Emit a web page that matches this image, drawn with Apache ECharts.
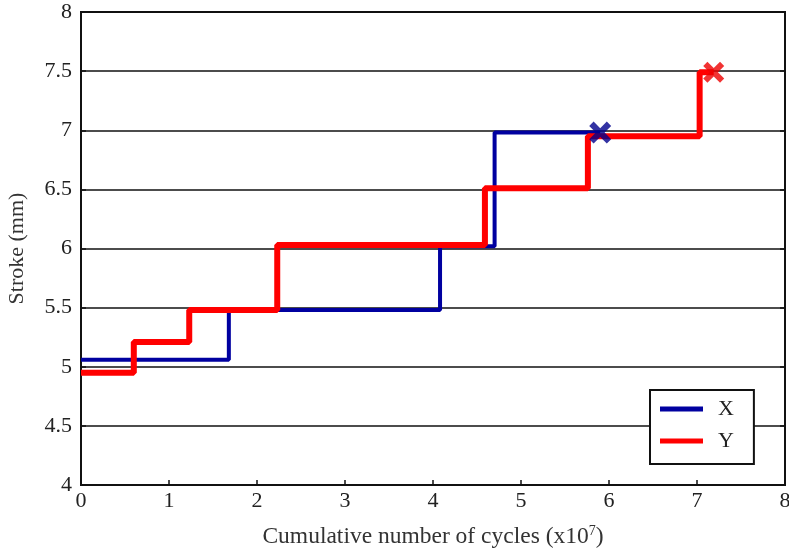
<!DOCTYPE html>
<html>
<head>
<meta charset="utf-8">
<script src="https://cdn.jsdelivr.net/npm/echarts@6/dist/echarts.min.js"></script>
<style>
    html, body { margin: 0; padding: 0; background: #fff; }
    #chart { width: 789px; height: 552px; }
</style>
</head>
<body>
<div id="chart"></div>
<script>
// step points (cycles x10^7, stroke mm)
const xCycles = [0, 1.68, 4.08, 4.70, 5.90]
const xStroke = [5.06, 5.48, 6.02, 6.98, 6.98]
const yCycles = [0, 0.60, 1.23, 2.23, 4.59, 5.76, 7.03, 7.19]
const yStroke = [4.95, 5.21, 5.48, 6.03, 6.51, 6.95, 7.49, 7.49]
const xEnd = [5.90, 6.98]
const yEnd = [7.19, 7.49]

const serif = 'Liberation Serif'
const cross = 'path://M2,0 L5,3 L8,0 L10,2 L7,5 L10,8 L8,10 L5,7 L2,10 L0,8 L3,5 L0,2 Z'

let myChart = echarts.init(document.getElementById('chart'))
let option = {
    animation: false,
    textStyle: { fontFamily: serif, color: '#222' },
    grid: {
        left: 81,
        right: 4,
        top: 12,
        bottom: 67,
        outerBoundsMode: 'none',
        containLabel: false,
        show: true,
        borderColor: '#111',
        borderWidth: 2,
    },
    legend: {
        data: ['X', 'Y'],
        orient: 'vertical',
        left: 650,
        top: 390,
        padding: [8, 20, 12, 10],
        itemGap: 10,
        itemWidth: 43,
        itemHeight: 5,
        icon: 'rect',
        backgroundColor: '#fff',
        borderColor: '#111',
        borderWidth: 2,
        borderRadius: 0,
        textStyle: { fontFamily: serif, fontSize: 22, color: '#222', padding: [0, 0, 0, 10] },
    },
    xAxis: {
        type: 'value',
        min: 0,
        max: 8,
        interval: 1,
        name: 'Cumulative number of cycles (x10{sup|7})',
        nameLocation: 'middle',
        nameGap: 39,
        nameTextStyle: {
            fontFamily: serif,
            fontSize: 23.5,
            color: '#333',
            rich: { sup: { fontSize: 14, verticalAlign: 'top', padding: [0, 0, 12, 0], fontFamily: serif, color: '#333' } },
        },
        axisLine: { show: true, lineStyle: { color: '#111', width: 2 } },
        axisTick: { show: true, inside: true, length: 5, lineStyle: { color: '#111', width: 1.5 } },
        axisLabel: { fontSize: 22, color: '#222', margin: 5 },
        splitLine: { show: false },
    },
    yAxis: [
        {
            type: 'value',
            min: 4,
            max: 8,
            interval: 0.5,
            name: 'Stroke (mm)',
            nameLocation: 'middle',
            nameGap: 53,
            nameTextStyle: { fontFamily: serif, fontSize: 22, color: '#333' },
            axisLine: { show: true, lineStyle: { color: '#111', width: 2 } },
            axisTick: { show: true, inside: true, length: 5, lineStyle: { color: '#111', width: 1.5 } },
            axisLabel: { fontSize: 22, color: '#222', margin: 9 },
            splitLine: { show: true, lineStyle: { color: '#111', width: 1.5 } },
        },
        {
            type: 'value',
            position: 'right',
            min: 4,
            max: 8,
            interval: 0.5,
            axisLine: { show: true, lineStyle: { color: '#111', width: 2 } },
            axisTick: { show: true, inside: true, length: 5, lineStyle: { color: '#111', width: 1.5 } },
            axisLabel: { show: false },
            splitLine: { show: false },
        },
    ],
    series: [
        {
            name: 'X',
            type: 'line',
            step: 'end',
            showSymbol: false,
            color: '#0000a0',
            lineStyle: { width: 4, color: '#0000a0' },
            data: xCycles.map((c, i) => [c, xStroke[i]]),
            z: 2,
        },
        {
            name: 'Y',
            type: 'line',
            step: 'end',
            showSymbol: false,
            color: '#ff0000',
            lineStyle: { width: 6, color: '#ff0000' },
            data: yCycles.map((c, i) => [c, yStroke[i]]),
            z: 3,
        },
        {
            name: 'X end',
            type: 'scatter',
            symbol: cross,
            symbolSize: 22,
            itemStyle: { color: '#00008c' },
            data: [xEnd],
            z: 5,
        },
        {
            name: 'Y end',
            type: 'scatter',
            symbol: cross,
            symbolSize: 21,
            itemStyle: { color: '#ee0000' },
            data: [yEnd],
            z: 5,
        },
    ],
}
myChart.setOption(option, true)
</script>
</body>
</html>
